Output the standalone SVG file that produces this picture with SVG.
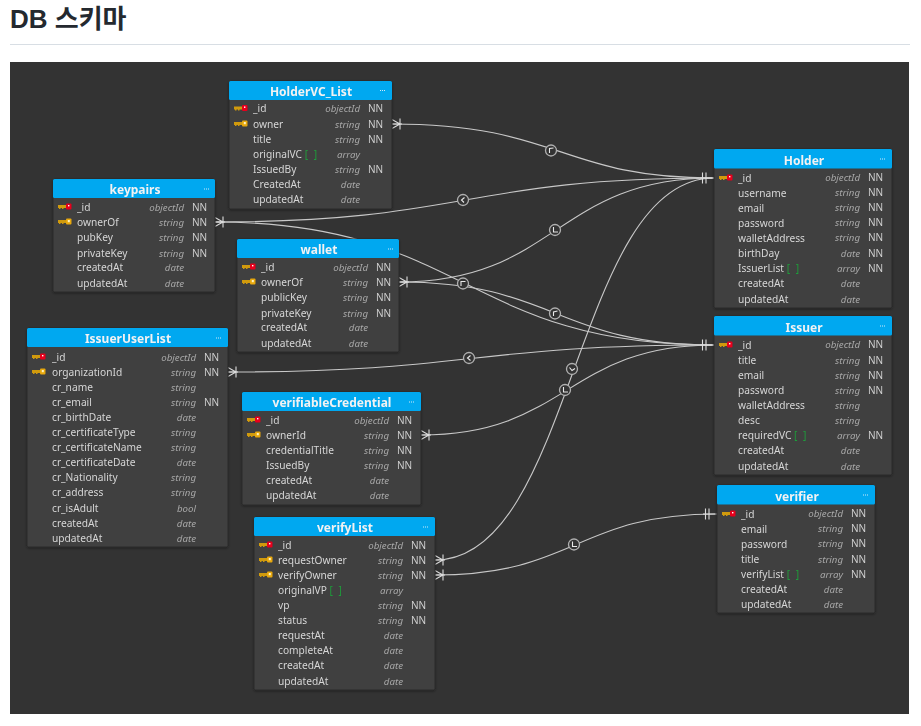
<svg xmlns="http://www.w3.org/2000/svg" width="921" height="726" viewBox="0 0 921 726">
<style>
.title{font:700 26px "Liberation Sans","Noto Sans CJK KR",sans-serif;fill:#24292f}
.body{fill:#3f3f3f;stroke:#2b2b2b;stroke-width:1}
.head{fill:#00a8f0}
.h{font:700 12px "Noto Sans",sans-serif;fill:#f2f2f2;text-anchor:middle}
.n{font:10.2px "Noto Sans",sans-serif;fill:#d6d6d6}
.y{font:italic 9.7px "Noto Sans",sans-serif;fill:#a8a8a8;text-anchor:end}
.q{font:10px "Noto Sans",sans-serif;fill:#d0d0d0}
.a{fill:#1f9d3a;word-spacing:3px}
.dots{stroke:#cfe9f8;stroke-width:1;stroke-dasharray:1 1;fill:none}
.c{fill:none;stroke:#c8c8c8;stroke-width:1.1}
.e{fill:none;stroke:#dcdcdc;stroke-width:1.1}
.o{fill:#333;stroke:#b0b0b0;stroke-width:1.3}
.g{fill:none;stroke:#e8e8e8;stroke-width:1.1}
</style>
<defs>
<g id="pk"><rect x="0" y="-2" width="8" height="3" fill="#d09a10"/><rect x="1" y="0" width="1.500" height="2" fill="#d09a10"/><rect x="4" y="0" width="1.500" height="2" fill="#d09a10"/><rect x="8" y="-3.500" width="5.500" height="6" rx="1" fill="#e8001c"/><rect x="10" y="-2" width="1.400" height="1.400" fill="#fff"/></g>
<g id="fk"><rect x="0" y="-2" width="8" height="3" fill="#d09a10"/><rect x="1" y="0" width="1.500" height="2" fill="#d09a10"/><rect x="4" y="0" width="1.500" height="2" fill="#d09a10"/><rect x="8" y="-3.500" width="5.500" height="6" rx="1" fill="#e8a810"/><rect x="9.800" y="-2" width="2" height="2.200" fill="#fff3c0"/></g>
<g id="many"><path class="e" d="M0 -4.500L8 0L0 4.500M0 0H10M8 -5.500V5.500"/></g>
<g id="one"><path class="e" d="M0 0H12M2.500 -5.500V5.500M6 -5.500V5.500"/></g>
<filter id="sh" x="-5%" y="-5%" width="110%" height="110%"><feDropShadow dx="0" dy="1" stdDeviation="1.200" flood-color="#000" flood-opacity=".4"/></filter>
</defs>
<rect width="921" height="726" fill="#fff"/>
<text class="title" x="10" y="28">DB 스키마</text>
<rect x="10" y="44" width="900" height="1" fill="#d8dee4"/>
<rect x="10" y="62" width="899" height="652" fill="#333"/>

<g id="connectors">
<path class="c" d="M392 124C560 124 560 178 714 178"/>
<path class="c" d="M215 222C465 222 465 178 714 178"/>
<path class="c" d="M399 282C556 282 556 178 714 178"/>
<path class="c" d="M399 282C556 282 556 345 714 345"/>
<path class="c" d="M215 222C465 222 465 345 714 345"/>
<path class="c" d="M228 372C471 372 471 345 714 345"/>
<path class="c" d="M421 435C567 435 567 345 714 345"/>
<path class="c" d="M435 560C574 560 574 178 714 178"/>
<path class="c" d="M435 575C576 575 576 514 717 514"/>
<use href="#many" x="392" y="124"/><use href="#many" x="215" y="222"/><use href="#many" x="399" y="282"/><use href="#many" x="228" y="372"/><use href="#many" x="421" y="435"/><use href="#many" x="435" y="560"/><use href="#many" x="435" y="575"/>
<use href="#one" x="700" y="178"/><use href="#one" x="700" y="345"/><use href="#one" x="703" y="514"/>
<g><circle class="o" cx="551" cy="150.500" r="5.500"/><path class="g" d="M549.500 153V148.500L553.500 148"/></g>
<g><circle class="o" cx="463" cy="200" r="5.500"/><path class="g" d="M464.500 197.500L461.500 200L464 202.500"/></g>
<g><circle class="o" cx="555" cy="230" r="5.500"/><path class="g" d="M553.500 227V232H558"/></g>
<g><circle class="o" cx="463" cy="283.500" r="5.500"/><path class="g" d="M461 286V281.500H465.500"/></g>
<g><circle class="o" cx="555" cy="313.500" r="5.500"/><path class="g" d="M553.500 316V312L557.500 311"/></g>
<g><circle class="o" cx="469" cy="358" r="5.500"/><path class="g" d="M470.500 355.500L467.500 358L470.500 360.500"/></g>
<g><circle class="o" cx="572" cy="369" r="5.500"/><path class="g" d="M569.500 367.500L572 370.500L575 368.500"/></g>
<g><circle class="o" cx="565" cy="390" r="5.500"/><path class="g" d="M563.500 387V392H568"/></g>
<g><circle class="o" cx="574" cy="544.500" r="5.500"/><path class="g" d="M572.500 541.500V546.500H577"/></g>
</g>

<g id="HolderVC_List" filter="url(#sh)">
<rect class="body" x="229" y="81" width="163" height="128" rx="1.500"/><rect class="head" x="229" y="81" width="163" height="19" rx="1.500"/>
<text class="h" x="311" y="96">HolderVC_List</text><path class="dots" d="M380 90.500h6"/>
<use href="#pk" x="234" y="108.500"/><use href="#fk" x="234" y="124"/>
<text class="n" x="253" y="112">_id</text><text class="y" x="360" y="112">objectId</text><text class="q" x="368" y="112">NN</text>
<text class="n" x="253" y="128">owner</text><text class="y" x="360" y="128">string</text><text class="q" x="368" y="128">NN</text>
<text class="n" x="253" y="143">title</text><text class="y" x="360" y="143">string</text><text class="q" x="368" y="143">NN</text>
<text class="n" x="253" y="158">originalVC <tspan class="a">[ ]</tspan></text><text class="y" x="360" y="158">array</text>
<text class="n" x="253" y="173">IssuedBy</text><text class="y" x="360" y="173">string</text><text class="q" x="368" y="173">NN</text>
<text class="n" x="253" y="188">CreatedAt</text><text class="y" x="360" y="188">date</text>
<text class="n" x="253" y="203">updatedAt</text><text class="y" x="360" y="203">date</text>
</g>

<g id="keypairs" filter="url(#sh)">
<rect class="body" x="53" y="179" width="162" height="113" rx="1.500"/><rect class="head" x="53" y="179" width="162" height="19" rx="1.500"/>
<text class="h" x="135" y="194">keypairs</text><path class="dots" d="M204 189h6"/>
<use href="#pk" x="58" y="207"/><use href="#fk" x="58" y="222"/>
<text class="n" x="77" y="211">_id</text><text class="y" x="184" y="211">objectId</text><text class="q" x="192" y="211">NN</text>
<text class="n" x="77" y="226">ownerOf</text><text class="y" x="184" y="226">string</text><text class="q" x="192" y="226">NN</text>
<text class="n" x="77" y="241">pubKey</text><text class="y" x="184" y="241">string</text><text class="q" x="192" y="241">NN</text>
<text class="n" x="77" y="257">privateKey</text><text class="y" x="184" y="257">string</text><text class="q" x="192" y="257">NN</text>
<text class="n" x="77" y="271">createdAt</text><text class="y" x="184" y="271">date</text>
<text class="n" x="77" y="287">updatedAt</text><text class="y" x="184" y="287">date</text>
</g>

<g id="wallet" filter="url(#sh)">
<rect class="body" x="237" y="239" width="162" height="113" rx="1.500"/><rect class="head" x="237" y="239" width="162" height="19" rx="1.500"/>
<text class="h" x="319" y="254">wallet</text><path class="dots" d="M388 249h6"/>
<use href="#pk" x="242" y="267"/><use href="#fk" x="242" y="282"/>
<text class="n" x="261" y="271">_id</text><text class="y" x="368" y="271">objectId</text><text class="q" x="376" y="271">NN</text>
<text class="n" x="261" y="286">ownerOf</text><text class="y" x="368" y="286">string</text><text class="q" x="376" y="286">NN</text>
<text class="n" x="261" y="301">publicKey</text><text class="y" x="368" y="301">string</text><text class="q" x="376" y="301">NN</text>
<text class="n" x="261" y="317">privateKey</text><text class="y" x="368" y="317">string</text><text class="q" x="376" y="317">NN</text>
<text class="n" x="261" y="331">createdAt</text><text class="y" x="368" y="331">date</text>
<text class="n" x="261" y="347">updatedAt</text><text class="y" x="368" y="347">date</text>
</g>

<g id="IssuerUserList" filter="url(#sh)">
<rect class="body" x="27" y="328" width="201" height="219" rx="1.500"/><rect class="head" x="27" y="328" width="201" height="19" rx="1.500"/>
<text class="h" x="128" y="343">IssuerUserList</text><path class="dots" d="M216 338h6"/>
<use href="#pk" x="32" y="357"/><use href="#fk" x="32" y="372"/>
<text class="n" x="52" y="361">_id</text><text class="y" x="196" y="361">objectId</text><text class="q" x="204" y="361">NN</text>
<text class="n" x="52" y="376">organizationId</text><text class="y" x="196" y="376">string</text><text class="q" x="204" y="376">NN</text>
<text class="n" x="52" y="391">cr_name</text><text class="y" x="196" y="391">string</text>
<text class="n" x="52" y="406">cr_email</text><text class="y" x="196" y="406">string</text><text class="q" x="204" y="406">NN</text>
<text class="n" x="52" y="421">cr_birthDate</text><text class="y" x="196" y="421">date</text>
<text class="n" x="52" y="436">cr_certificateType</text><text class="y" x="196" y="436">string</text>
<text class="n" x="52" y="451">cr_certificateName</text><text class="y" x="196" y="451">string</text>
<text class="n" x="52" y="466">cr_certificateDate</text><text class="y" x="196" y="466">date</text>
<text class="n" x="52" y="481">cr_Nationality</text><text class="y" x="196" y="481">string</text>
<text class="n" x="52" y="496">cr_address</text><text class="y" x="196" y="496">string</text>
<text class="n" x="52" y="512">cr_isAdult</text><text class="y" x="196" y="512">bool</text>
<text class="n" x="52" y="527">createdAt</text><text class="y" x="196" y="527">date</text>
<text class="n" x="52" y="542">updatedAt</text><text class="y" x="196" y="542">date</text>
</g>

<g id="verifiableCredential" filter="url(#sh)">
<rect class="body" x="242" y="392" width="179" height="113" rx="1.500"/><rect class="head" x="242" y="392" width="179" height="19" rx="1.500"/>
<text class="h" x="332" y="407">verifiableCredential</text><path class="dots" d="M409 402h6"/>
<use href="#pk" x="247" y="420"/><use href="#fk" x="247" y="435"/>
<text class="n" x="266" y="424">_id</text><text class="y" x="389" y="424">objectId</text><text class="q" x="397" y="424">NN</text>
<text class="n" x="266" y="439">ownerId</text><text class="y" x="389" y="439">string</text><text class="q" x="397" y="439">NN</text>
<text class="n" x="266" y="454">credentialTitle</text><text class="y" x="389" y="454">string</text><text class="q" x="397" y="454">NN</text>
<text class="n" x="266" y="469">IssuedBy</text><text class="y" x="389" y="469">string</text><text class="q" x="397" y="469">NN</text>
<text class="n" x="266" y="484">createdAt</text><text class="y" x="389" y="484">date</text>
<text class="n" x="266" y="499">updatedAt</text><text class="y" x="389" y="499">date</text>
</g>

<g id="verifyList" filter="url(#sh)">
<rect class="body" x="254" y="517" width="181" height="173" rx="1.500"/><rect class="head" x="254" y="517" width="181" height="19" rx="1.500"/>
<text class="h" x="345" y="532">verifyList</text><path class="dots" d="M423 527h6"/>
<use href="#pk" x="259" y="545"/><use href="#fk" x="259" y="560"/><use href="#fk" x="259" y="575"/>
<text class="n" x="278" y="549">_id</text><text class="y" x="403" y="549">objectId</text><text class="q" x="411" y="549">NN</text>
<text class="n" x="278" y="564">requestOwner</text><text class="y" x="403" y="564">string</text><text class="q" x="411" y="564">NN</text>
<text class="n" x="278" y="579">verifyOwner</text><text class="y" x="403" y="579">string</text><text class="q" x="411" y="579">NN</text>
<text class="n" x="278" y="594">originalVP <tspan class="a">[ ]</tspan></text><text class="y" x="403" y="594">array</text>
<text class="n" x="278" y="609">vp</text><text class="y" x="403" y="609">string</text><text class="q" x="411" y="609">NN</text>
<text class="n" x="278" y="624">status</text><text class="y" x="403" y="624">string</text><text class="q" x="411" y="624">NN</text>
<text class="n" x="278" y="639">requestAt</text><text class="y" x="403" y="639">date</text>
<text class="n" x="278" y="654">completeAt</text><text class="y" x="403" y="654">date</text>
<text class="n" x="278" y="669">createdAt</text><text class="y" x="403" y="669">date</text>
<text class="n" x="278" y="685">updatedAt</text><text class="y" x="403" y="685">date</text>
</g>

<g id="Holder" filter="url(#sh)">
<rect class="body" x="714" y="149" width="178" height="159" rx="1.500"/><rect class="head" x="714" y="149" width="178" height="19.500" rx="1.500"/>
<text class="h" x="804" y="165">Holder</text><path class="dots" d="M880 159h6"/>
<use href="#pk" x="719" y="178"/>
<text class="n" x="738" y="182">_id</text><text class="y" x="860" y="181">objectId</text><text class="q" x="868" y="181">NN</text>
<text class="n" x="738" y="197">username</text><text class="y" x="860" y="196">string</text><text class="q" x="868" y="196">NN</text>
<text class="n" x="738" y="212">email</text><text class="y" x="860" y="211">string</text><text class="q" x="868" y="211">NN</text>
<text class="n" x="738" y="227">password</text><text class="y" x="860" y="226">string</text><text class="q" x="868" y="226">NN</text>
<text class="n" x="738" y="242">walletAddress</text><text class="y" x="860" y="241">string</text><text class="q" x="868" y="241">NN</text>
<text class="n" x="738" y="257">birthDay</text><text class="y" x="860" y="257">date</text><text class="q" x="868" y="257">NN</text>
<text class="n" x="738" y="272">IssuerList <tspan class="a">[ ]</tspan></text><text class="y" x="860" y="272">array</text><text class="q" x="868" y="272">NN</text>
<text class="n" x="738" y="287">createdAt</text><text class="y" x="860" y="287">date</text>
<text class="n" x="738" y="303">updatedAt</text><text class="y" x="860" y="303">date</text>
</g>

<g id="Issuer" filter="url(#sh)">
<rect class="body" x="714" y="316" width="178" height="159" rx="1.500"/><rect class="head" x="714" y="316" width="178" height="19.500" rx="1.500"/>
<text class="h" x="804" y="332">Issuer</text><path class="dots" d="M880 326h6"/>
<use href="#pk" x="719" y="345"/>
<text class="n" x="738" y="349">_id</text><text class="y" x="860" y="348">objectId</text><text class="q" x="868" y="348">NN</text>
<text class="n" x="738" y="364">title</text><text class="y" x="860" y="364">string</text><text class="q" x="868" y="364">NN</text>
<text class="n" x="738" y="379">email</text><text class="y" x="860" y="379">string</text><text class="q" x="868" y="379">NN</text>
<text class="n" x="738" y="394">password</text><text class="y" x="860" y="394">string</text><text class="q" x="868" y="394">NN</text>
<text class="n" x="738" y="409">walletAddress</text><text class="y" x="860" y="409">string</text>
<text class="n" x="738" y="424">desc</text><text class="y" x="860" y="424">string</text>
<text class="n" x="738" y="439">requiredVC <tspan class="a">[ ]</tspan></text><text class="y" x="860" y="439">array</text><text class="q" x="868" y="439">NN</text>
<text class="n" x="738" y="454">createdAt</text><text class="y" x="860" y="454">date</text>
<text class="n" x="738" y="470">updatedAt</text><text class="y" x="860" y="470">date</text>
</g>

<g id="verifier" filter="url(#sh)">
<rect class="body" x="717" y="485" width="158" height="128" rx="1.500"/><rect class="head" x="717" y="485" width="158" height="19.500" rx="1.500"/>
<text class="h" x="797" y="501">verifier</text><path class="dots" d="M863 495h6"/>
<use href="#pk" x="722" y="514"/>
<text class="n" x="741" y="518">_id</text><text class="y" x="843" y="517">objectId</text><text class="q" x="851" y="517">NN</text>
<text class="n" x="741" y="533">email</text><text class="y" x="843" y="532">string</text><text class="q" x="851" y="532">NN</text>
<text class="n" x="741" y="548">password</text><text class="y" x="843" y="547">string</text><text class="q" x="851" y="547">NN</text>
<text class="n" x="741" y="563">title</text><text class="y" x="843" y="563">string</text><text class="q" x="851" y="563">NN</text>
<text class="n" x="741" y="578">verifyList <tspan class="a">[ ]</tspan></text><text class="y" x="843" y="578">array</text><text class="q" x="851" y="578">NN</text>
<text class="n" x="741" y="593">createdAt</text><text class="y" x="843" y="593">date</text>
<text class="n" x="741" y="608">updatedAt</text><text class="y" x="843" y="608">date</text>
</g>
</svg>
